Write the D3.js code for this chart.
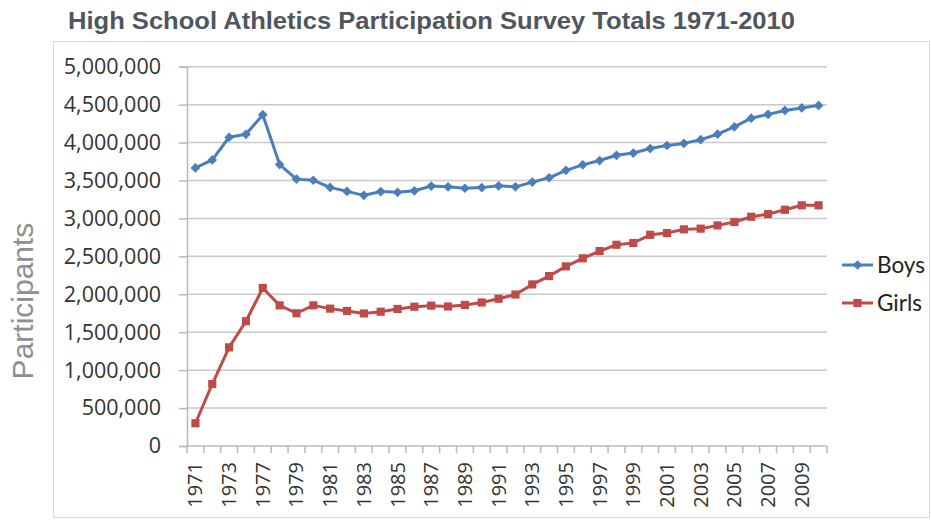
<!DOCTYPE html>
<html>
<head>
<meta charset="utf-8">
<script src="https://cdn.jsdelivr.net/npm/d3@7"></script>
<style>
  html, body { margin: 0; padding: 0; background: #fff; }
  svg { display: block; }
</style>
</head>
<body>
<div id="chart"></div>
<script>
// Survey years (some early years are missing from the survey)
const years = ['1971', '1972', '1973', '1975', '1977', '1978', '1979', '1980', '1981', '1982',
  '1983', '1984', '1985', '1986', '1987', '1988', '1989', '1990', '1991', '1992',
  '1993', '1994', '1995', '1996', '1997', '1998', '1999', '2000', '2001', '2002',
  '2003', '2004', '2005', '2006', '2007', '2008', '2009', '2010'];

const boys = [3666000, 3771000, 4070000, 4109000, 4367000, 3710000, 3518000, 3503000, 3409000, 3356000,
  3304000, 3354000, 3344000, 3364000, 3426000, 3417000, 3398000, 3406000, 3430000, 3416000,
  3479000, 3536000, 3634000, 3706000, 3763000, 3832000, 3862000, 3921000, 3961000, 3989000,
  4038000, 4110000, 4207000, 4321000, 4372000, 4423000, 4456000, 4490000];

const girls = [300000, 817000, 1300000, 1645000, 2083000, 1854000, 1750000, 1854000, 1811000, 1780000,
  1747000, 1770000, 1807000, 1836000, 1850000, 1839000, 1859000, 1892000, 1941000, 1997000,
  2130000, 2240000, 2368000, 2474000, 2570000, 2653000, 2676000, 2784000, 2807000, 2856000,
  2865000, 2908000, 2953000, 3022000, 3057000, 3114000, 3173000, 3173000];

const yTicks = [0, 500000, 1000000, 1500000, 2000000, 2500000, 3000000, 3500000, 4000000, 4500000, 5000000];

const seriesNames = ['Boys', 'Girls'];
const seriesColors = ['#4a7ebb', '#be4b48'];

const width = 931;
const height = 520;
const margin = { top: 66.7, right: 104, bottom: 74, left: 187 };

const svg = d3.select('#chart')
  .append('svg')
  .attr('width', width)
  .attr('height', height);

// Outer frame
svg.append('rect')
  .attr('x', 53.5)
  .attr('y', 41.5)
  .attr('width', 876)
  .attr('height', 476)
  .attr('fill', 'none')
  .attr('stroke', '#d9d9d9');

// Title
svg.append('text')
  .attr('x', 68)
  .attr('y', 29)
  .attr('textLength', 727)
  .attr('lengthAdjust', 'spacingAndGlyphs')
  .style('font-family', '"Liberation Sans", Arial, sans-serif')
  .style('font-weight', 'bold')
  .style('font-size', '24px')
  .style('fill', '#4f5660')
  .text('High School Athletics Participation Survey Totals 1971-2010');

// Scales
const xBand = d3.scaleBand()
  .domain(years)
  .range([margin.left, width - margin.right]);

const x = d => xBand(d) + xBand.bandwidth() / 2;

const y = d3.scaleLinear()
  .domain([0, 5000000])
  .range([height - margin.bottom, margin.top]);

// Gridlines
svg.append('g')
  .selectAll('line')
  .data(yTicks.slice(1))
  .enter()
  .append('line')
  .attr('x1', margin.left)
  .attr('x2', width - margin.right)
  .attr('y1', d => y(d))
  .attr('y2', d => y(d))
  .attr('stroke', '#c9c9c9')
  .attr('stroke-width', 1.5);

// Y axis
const yAxis = svg.append('g')
  .attr('transform', `translate(${margin.left},0)`)
  .call(d3.axisLeft(y)
    .tickValues(yTicks)
    .tickSize(8)
    .tickPadding(18)
    .tickFormat(d3.format(',')));

yAxis.selectAll('text')
  .style('font-family', '"Open Sans", sans-serif')
  .style('font-size', '21.5px')
  .style('fill', '#333');

yAxis.selectAll('line, path')
  .attr('stroke', '#b8b8b8')
  .attr('stroke-width', 1.5);

// X axis
const xAxis = svg.append('g')
  .attr('transform', `translate(0,${height - margin.bottom})`);

xAxis.append('line')
  .attr('x1', margin.left)
  .attr('x2', width - margin.right)
  .attr('stroke', '#b8b8b8')
  .attr('stroke-width', 1.5);

// tick marks between categories
xAxis.selectAll('.xtick')
  .data(years.concat(['end']))
  .enter()
  .append('line')
  .attr('class', 'xtick')
  .attr('x1', d => d === 'end' ? xBand.range()[1] : xBand(d))
  .attr('x2', d => d === 'end' ? xBand.range()[1] : xBand(d))
  .attr('y1', 0)
  .attr('y2', 7)
  .attr('stroke', '#b8b8b8')
  .attr('stroke-width', 1.5);

// labels on every other category
xAxis.selectAll('.xlabel')
  .data(years.filter((d, i) => i % 2 === 0))
  .enter()
  .append('text')
  .attr('class', 'xlabel')
  .attr('transform', d => `translate(${x(d)},16) rotate(-90)`)
  .attr('dy', '0.35em')
  .attr('text-anchor', 'end')
  .style('font-family', '"Open Sans", sans-serif')
  .style('font-size', '20px')
  .style('fill', '#333')
  .text(d => d);

// Y axis title
svg.append('text')
  .attr('transform', `translate(33,301) rotate(-90)`)
  .attr('text-anchor', 'middle')
  .style('font-family', '"Liberation Sans", Arial, sans-serif')
  .style('font-size', '30px')
  .style('fill', '#8f8f8f')
  .text('Participants');

// Series
const line = d3.line()
  .x((d, i) => x(years[i]))
  .y(d => y(d));

const series = [boys, girls];

series.forEach((values, s) => {
  const g = svg.append('g');
  g.append('path')
    .datum(values)
    .attr('d', line)
    .attr('fill', 'none')
    .attr('stroke', seriesColors[s])
    .attr('stroke-width', 3)
    .attr('stroke-linejoin', 'round');

  const sym = d3.symbol()
    .type(s === 0 ? d3.symbolDiamond2 : d3.symbolSquare2)
    .size(s === 0 ? 60 : 85);

  g.selectAll('path.marker')
    .data(values)
    .enter()
    .append('path')
    .attr('class', 'marker')
    .attr('transform', (d, i) => `translate(${x(years[i])},${y(d)})`)
    .attr('d', sym)
    .attr('fill', seriesColors[s]);
});

// Legend
const legend = svg.append('g');
seriesNames.forEach((name, s) => {
  const ly = 265 + s * 38;
  legend.append('line')
    .attr('x1', 842)
    .attr('x2', 873)
    .attr('y1', ly)
    .attr('y2', ly)
    .attr('stroke', seriesColors[s])
    .attr('stroke-width', 3);
  legend.append('path')
    .attr('transform', `translate(857.5,${ly})`)
    .attr('d', d3.symbol()
      .type(s === 0 ? d3.symbolDiamond2 : d3.symbolSquare2)
      .size(s === 0 ? 60 : 85))
    .attr('fill', seriesColors[s]);
  legend.append('text')
    .attr('x', 877)
    .attr('y', ly)
    .attr('dy', '0.35em')
    .style('font-family', 'Lato, "Open Sans", sans-serif')
    .style('font-size', '22.5px')
    .style('fill', '#222')
    .text(name);
});
</script>
</body>
</html>
